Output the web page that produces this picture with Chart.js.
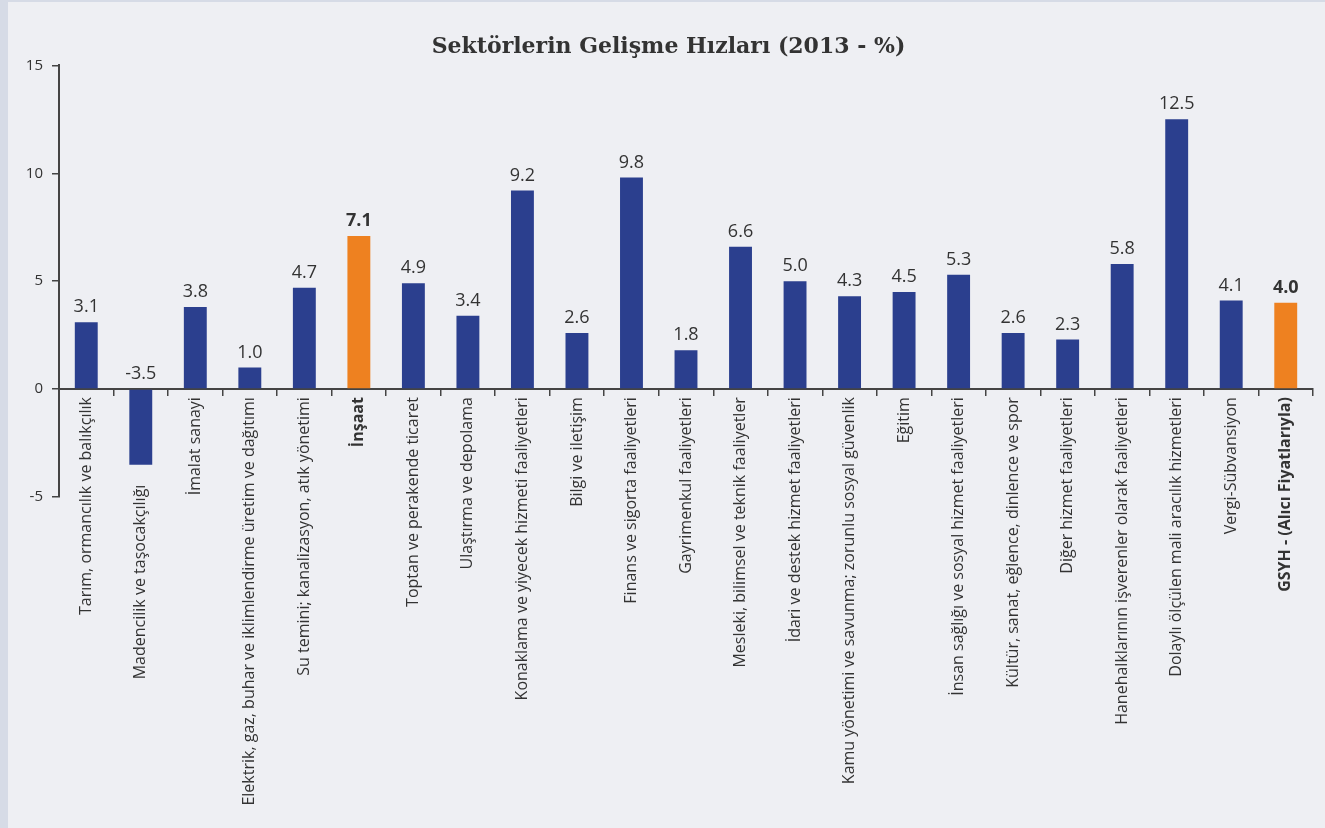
<!DOCTYPE html>
<html>
<head>
<meta charset="utf-8">
<title>Sektörlerin Gelişme Hızları</title>
<script src="https://cdn.jsdelivr.net/npm/chart.js"></script>
<style>
  html, body { margin: 0; padding: 0; background: #d6dbe6; }
  #frame { position: absolute; left: 8px; top: 2px; width: 1317px; height: 826px; background: #eeeff3; }
  canvas { display: block; }
</style>
</head>
<body>
<div id="frame"><canvas id="growthChart" width="1317" height="826"></canvas></div>
<script>
const sectors = [
  'Tarım, ormancılık ve balıkçılık',
  'Madencilik ve taşocakçılığı',
  'İmalat sanayi',
  'Elektrik, gaz, buhar ve iklimlendirme üretim ve dağıtımı',
  'Su temini; kanalizasyon, atık yönetimi',
  'İnşaat',
  'Toptan ve perakende ticaret',
  'Ulaştırma ve depolama',
  'Konaklama ve yiyecek hizmeti faaliyetleri',
  'Bilgi ve iletişim',
  'Finans ve sigorta faaliyetleri',
  'Gayrimenkul faaliyetleri',
  'Mesleki, bilimsel ve teknik faaliyetler',
  'İdari ve destek hizmet faaliyetleri',
  'Kamu yönetimi ve savunma; zorunlu sosyal güvenlik',
  'Eğitim',
  'İnsan sağlığı ve sosyal hizmet faaliyetleri',
  'Kültür, sanat, eğlence, dinlence ve spor',
  'Diğer hizmet faaliyetleri',
  'Hanehalklarının işverenler olarak faaliyetleri',
  'Dolaylı ölçülen mali aracılık hizmetleri',
  'Vergi-Sübvansiyon',
  'GSYH - (Alıcı Fiyatlarıyla)'
];
const growth = [3.1, -3.5, 3.8, 1.0, 4.7, 7.1, 4.9, 3.4, 9.2, 2.6, 9.8, 1.8, 6.6, 5.0, 4.3, 4.5, 5.3, 2.6, 2.3, 5.8, 12.5, 4.1, 4.0];
const highlighted = ['İnşaat', 'GSYH - (Alıcı Fiyatlarıyla)'];
const yTicks = [-5, 0, 5, 10, 15];

const BLUE = '#2b3f8e';
const ORANGE = '#ee8120';
const TEXT = '#333333';
const AXIS = '#444444';
const isHot = i => highlighted.includes(sectors[i]);

// value labels above the bars and rotated sector names under the zero line
const barText = {
  id: 'barText',
  afterDatasetsDraw(chart) {
    const ctx = chart.ctx;
    const y = chart.scales.y;
    const x = chart.scales.x;
    const zero = y.getPixelForValue(0);
    ctx.save();
    ctx.fillStyle = TEXT;
    chart.getDatasetMeta(0).data.forEach((bar, i) => {
      const v = growth[i];
      ctx.font = (isHot(i) ? 'bold 18px' : '18px') + ' "Open Sans"';
      ctx.textAlign = 'center';
      ctx.textBaseline = 'bottom';
      ctx.fillText(v.toFixed(1), bar.x, Math.min(bar.y, zero) - 6);

      const top = v < 0 ? y.getPixelForValue(v) + 20 : zero + 8;
      ctx.save();
      ctx.translate(x.getPixelForValue(i), top);
      ctx.rotate(-Math.PI / 2);
      ctx.font = (isHot(i) ? 'bold 16px' : '16px') + ' "Open Sans"';
      ctx.textAlign = 'right';
      ctx.textBaseline = 'middle';
      ctx.fillText(sectors[i], 0, 0);
      ctx.restore();
    });
    ctx.restore();
  }
};

new Chart(document.getElementById('growthChart'), {
  type: 'bar',
  data: {
    labels: sectors,
    datasets: [{
      data: growth,
      backgroundColor: sectors.map((s, i) => isHot(i) ? ORANGE : BLUE),
      barPercentage: 0.42,
      categoryPercentage: 1
    }]
  },
  options: {
    responsive: false,
    animation: false,
    layout: { padding: { left: 16, right: 12, top: 0, bottom: 331 } },
    plugins: {
      legend: { display: false },
      tooltip: { enabled: false },
      title: {
        display: true,
        text: 'Sektörlerin Gelişme Hızları (2013 - %)',
        color: TEXT,
        font: { family: '"DejaVu Serif"', size: 22, weight: 'bold' },
        padding: { top: 32, bottom: 5 }
      }
    },
    scales: {
      x: {
        position: { y: 0 },
        grid: { offset: true, drawOnChartArea: false, drawTicks: true, tickLength: 6, color: AXIS, lineWidth: 1.5 },
        border: { display: true, color: AXIS, width: 2 },
        ticks: { display: false }
      },
      y: {
        min: -5,
        max: 15,
        afterBuildTicks: s => { s.ticks = yTicks.map(v => ({ value: v })); },
        afterFit: s => { s.width = 35; },
        grid: { drawOnChartArea: false, drawTicks: true, tickLength: 7, color: AXIS, lineWidth: 1.5 },
        border: { display: true, color: AXIS, width: 2 },
        ticks: { color: TEXT, font: { family: '"Open Sans"', size: 15 }, padding: 9 }
      }
    }
  },
  plugins: [barText]
});
</script>
</body>
</html>
